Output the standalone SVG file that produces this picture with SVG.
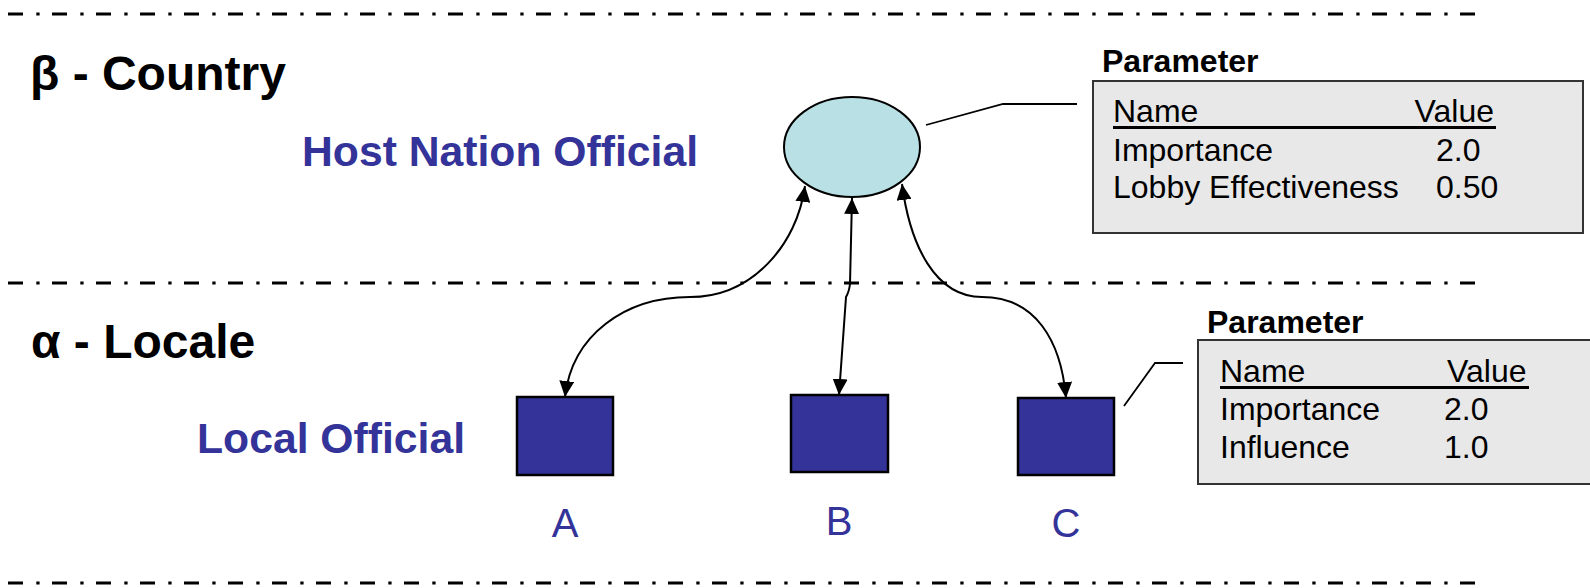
<svg xmlns="http://www.w3.org/2000/svg" width="1590" height="588" viewBox="0 0 1590 588">
<defs>
<style>
.sep{stroke:#000;stroke-width:3.2;stroke-dasharray:15 13.3 3.3 12.4;fill:none}
.title{font-family:"Liberation Sans",Arial,sans-serif;font-weight:bold;font-size:48px;fill:#000}
.role{font-family:"Liberation Sans",Arial,sans-serif;font-weight:bold;font-size:42.7px;fill:#333399}
.lbl{font-family:"Liberation Sans",Arial,sans-serif;font-size:40px;fill:#333399}
.ptitle{font-family:"Liberation Sans",Arial,sans-serif;font-weight:bold;font-size:32px;fill:#000}
.ptxt{font-family:"Liberation Sans",Arial,sans-serif;font-size:32px;fill:#000}
.pbox{fill:#e8e8e8;stroke:#333;stroke-width:2}
.sq{fill:#333399;stroke:#000;stroke-width:2.5}
.conn{fill:none;stroke:#000;stroke-width:2}
.lead{fill:none;stroke:#000;stroke-width:1.8}
.ul{stroke:#000;stroke-width:3}
</style>
<marker id="ah" viewBox="0 0 16 15" refX="16" refY="7.5" markerWidth="16" markerHeight="15" markerUnits="userSpaceOnUse" orient="auto-start-reverse">
<path d="M0,0 L16,7.5 L0,15 z" fill="#000"/>
</marker>
</defs>
<rect x="0" y="0" width="1590" height="588" fill="#fff"/>
<g id="separators">
<line class="sep" x1="8" y1="14" x2="1477" y2="14"/>
<line class="sep" x1="8" y1="283" x2="1477" y2="283"/>
<line class="sep" x1="8" y1="583" x2="1477" y2="583"/>
</g>
<g id="level-labels">
<text class="title" x="30" y="90">β - Country</text>
<text class="title" x="31" y="358">α - Locale</text>
<text class="role" x="302" y="166">Host Nation Official</text>
<text class="role" x="197" y="453">Local Official</text>
</g>
<g id="connectors">
<path class="conn" d="M805,186 C797,245 752,297 690,297 C625,297 572,335 565,397" marker-start="url(#ah)" marker-end="url(#ah)"/>
<path class="conn" d="M852,198 L850,284 Q849,292 846,297 L839,395" marker-start="url(#ah)" marker-end="url(#ah)"/>
<path class="conn" d="M902,184 C910,245 935,297 982,297 C1035,297 1061,340 1066,398" marker-start="url(#ah)" marker-end="url(#ah)"/>
<polyline class="lead" points="926,125 1003,104 1077,104"/>
<polyline class="lead" points="1124,406 1155,363 1183,363"/>
</g>
<g id="host-nation-official">
<ellipse cx="852" cy="147" rx="68" ry="50" fill="#b9e0e4" stroke="#000" stroke-width="2"/>
</g>
<g id="local-official-a">
<rect class="sq" x="517" y="397" width="96" height="78"/>
<text class="lbl" x="565" y="537" text-anchor="middle">A</text>
</g>
<g id="local-official-b">
<rect class="sq" x="791" y="395" width="97" height="77"/>
<text class="lbl" x="839" y="535" text-anchor="middle">B</text>
</g>
<g id="local-official-c">
<rect class="sq" x="1018" y="398" width="96" height="77"/>
<text class="lbl" x="1066" y="537" text-anchor="middle">C</text>
</g>
<g id="params-host">
<text class="ptitle" x="1102" y="72">Parameter</text>
<rect class="pbox" x="1093" y="81" width="490" height="152"/>
<text class="ptxt" x="1113" y="122">Name</text>
<text class="ptxt" x="1494" y="122" text-anchor="end">Value</text>
<line class="ul" x1="1113" y1="127.5" x2="1496" y2="127.5"/>
<text class="ptxt" x="1113" y="161">Importance</text>
<text class="ptxt" x="1436" y="161">2.0</text>
<text class="ptxt" x="1113" y="198">Lobby Effectiveness</text>
<text class="ptxt" x="1436" y="198">0.50</text>
</g>
<g id="params-local">
<text class="ptitle" x="1207" y="333">Parameter</text>
<rect class="pbox" x="1198" y="340" width="400" height="144"/>
<text class="ptxt" x="1220" y="382">Name</text>
<text class="ptxt" x="1447" y="382">Value</text>
<line class="ul" x1="1220" y1="387.5" x2="1529" y2="387.5"/>
<text class="ptxt" x="1220" y="420">Importance</text>
<text class="ptxt" x="1444" y="420">2.0</text>
<text class="ptxt" x="1220" y="458">Influence</text>
<text class="ptxt" x="1444" y="458">1.0</text>
</g>
</svg>
